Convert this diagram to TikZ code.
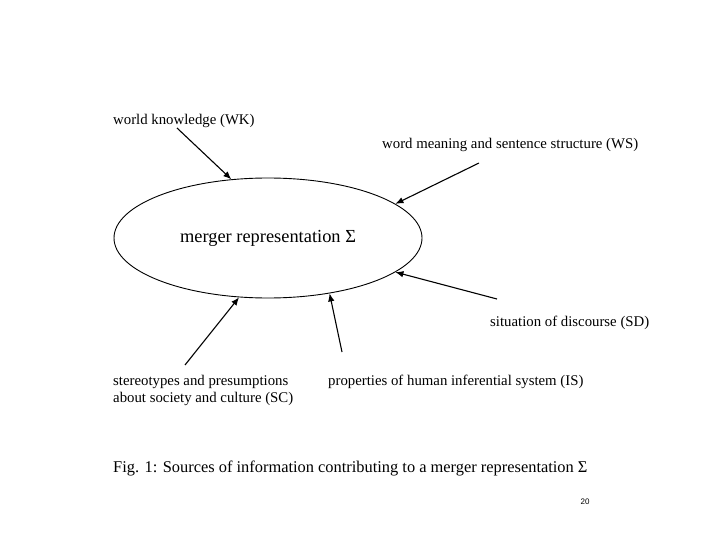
\documentclass[tikz,border=0pt]{standalone}
\usepackage{fontspec}
\setmainfont{Liberation Serif}
\setsansfont{Liberation Sans}
\usetikzlibrary{shapes.geometric,arrows.meta}

\tikzset{
  source/.style={anchor=base west,inner sep=0,font=\fontsize{14.8}{17}\selectfont},
  feed/.style={-{Latex[length=8pt,width=6.5pt]},line width=1.1pt},
}

\begin{document}
\begin{tikzpicture}[x=1pt,y=-1pt]
    \useasboundingbox (0,0) rectangle (720,540);

    \node[draw,ellipse,line width=0.9pt,inner sep=0,minimum width=308pt,minimum height=120pt,
      font=\fontsize{18.4}{21}\selectfont](merger) at (268,238) {merger representation Σ};

    \node[source](wk) at (113,125) {world knowledge (WK)};
    \node[source](ws) at (382,149) {word meaning and sentence structure (WS)};
    \node[source](sd) at (490,326) {situation of discourse (SD)};
    \node[source,align=left](sc) at (113,402) {stereotypes and presumptions\\about society and culture (SC)};
    \node[source](is) at (328,385) {properties of human inferential system (IS)};

    \coordinate (wkstart) at (177,128);
    \coordinate (wsstart) at (479,163);
    \coordinate (sdstart) at (497,299);
    \coordinate (scstart) at (185,365);
    \coordinate (isstart) at (342,352);

    \draw[feed] (wkstart) -- (merger.122);
    \draw[feed] (wsstart) -- (merger.15.5);
    \draw[feed] (sdstart) -- (merger.-15.5);
    \draw[feed] (scstart) -- (merger.244);
    \draw[feed] (isstart) -- (merger.318);

    \node[anchor=base west,inner sep=0,font=\fontsize{16.4}{19}\selectfont](caption) at (113,472)
      {Fig. 1: Sources of information contributing to a merger representation Σ};
    \node[font=\sffamily\fontsize{8}{10}\selectfont](page) at (585,502) {20};
\end{tikzpicture}
\end{document}
